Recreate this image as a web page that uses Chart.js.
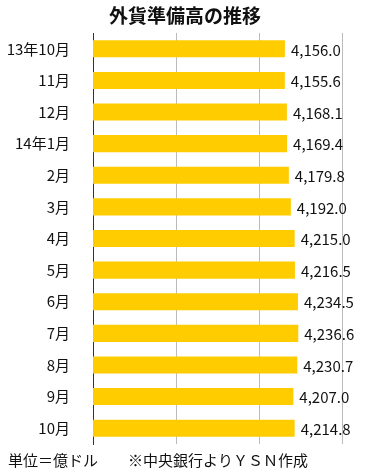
<!DOCTYPE html>
<html>
<head>
<meta charset="utf-8">
<script src="https://cdn.jsdelivr.net/npm/chart.js@4"></script>
<style>
  body { margin: 0; background: #fff; }
</style>
</head>
<body>
<canvas id="reserveChart" width="370" height="476"></canvas>
<script>
const titleText = "外貨準備高の推移";
const footerText = "単位＝億ドル　　※中央銀行よりＹＳＮ作成";
const months = ["13年10月", "11月", "12月", "14年1月", "2月", "3月", "4月", "5月", "6月", "7月", "8月", "9月", "10月"];
const reserves = [4156.0, 4155.6, 4168.1, 4169.4, 4179.8, 4192.0, 4215.0, 4216.5, 4234.5, 4236.6, 4230.7, 4207.0, 4214.8];

const jpFont = "'Noto Sans CJK JP', 'Noto Sans', sans-serif";

function fmt(v) {
    return v.toLocaleString("en-US", { minimumFractionDigits: 1, maximumFractionDigits: 1 });
}

// title, footer and the value after each bar
const textPlugin = {
    id: "texts",
    afterDatasetsDraw(chart) {
        const ctx = chart.ctx;
        ctx.save();
        ctx.fillStyle = "#111";
        ctx.font = "bold 19px " + jpFont;
        ctx.textAlign = "center";
        ctx.textBaseline = "middle";
        ctx.fillText(titleText, 185, 16);

        ctx.font = "15px " + jpFont;
        ctx.textAlign = "left";
        ctx.fillText(footerText, 8, 460);

        ctx.font = "15px " + jpFont;
        chart.getDatasetMeta(0).data.forEach((bar, i) => {
            ctx.fillText(fmt(reserves[i]), bar.x + 6, bar.y + 1);
        });
        ctx.restore();
    }
};

new Chart(document.getElementById("reserveChart"), {
    type: "bar",
    data: {
        labels: months,
        datasets: [{
            data: reserves,
            backgroundColor: "#FFCC00",
            borderWidth: 0,
            barPercentage: 0.54,
            categoryPercentage: 1.0
        }]
    },
    options: {
        indexAxis: "y",
        responsive: false,
        animation: false,
        layout: {
            padding: { top: 33, bottom: 32, left: 0, right: 28 }
        },
        plugins: {
            legend: { display: false },
            tooltip: { enabled: false }
        },
        scales: {
            x: {
                min: 3000,
                max: 4500,
                ticks: { display: false, stepSize: 500 },
                grid: { color: "#bbbbbb", drawTicks: false },
                border: { display: false }
            },
            y: {
                grid: { display: false },
                border: { color: "#333", width: 1 },
                ticks: {
                    color: "#111",
                    padding: 15,
                    font: { family: jpFont, size: 15 }
                },
                afterFit(scale) {
                    scale.width = 93;
                }
            }
        }
    },
    plugins: [textPlugin]
});
</script>
</body>
</html>
